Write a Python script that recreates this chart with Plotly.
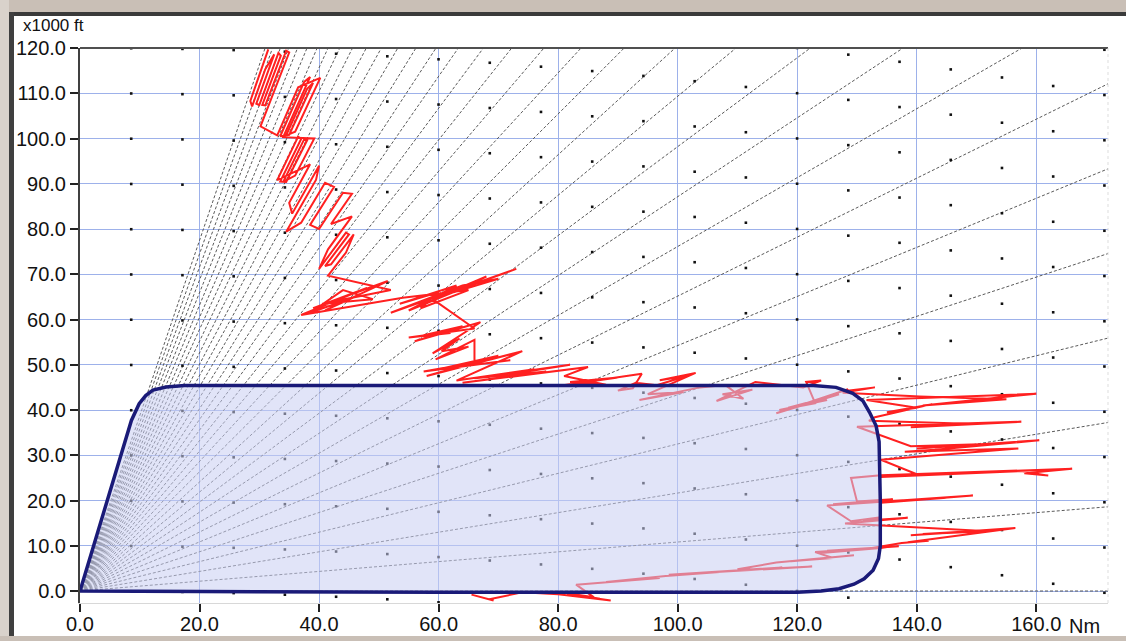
import math
import plotly.graph_objects as go

# ---------------- data ----------------
# elevation-angle reference lines (degrees) radiating from the origin
fan_elev_deg = list(range(0, 33))
kft_per_nm = 6.2  # vertical scale factor of the chart (kft per Nm)

# envelope outline (Nm, kft)
env_x = [0.0, 8.6, 9.9, 11.0, 12.2, 14.4, 17.5, 20.0, 60.0, 100.0, 122.7, 126.5, 129.3, 131.0, 132.1,
         133.2, 133.7, 133.9, 133.9, 133.6, 132.7, 131.2, 129.5, 127.0, 124.0, 120.0, 60.0, 20.0, 0.0]
env_y = [0.0, 37.7, 41.4, 43.2, 44.4, 45.1, 45.4, 45.4, 45.4, 45.4, 45.4, 45.0, 43.7, 42.0, 39.5,
         36.5, 33.0, 20.0, 10.0, 7.2, 4.6, 2.7, 1.5, 0.5, 0.0, -0.3, -0.3, -0.1, 0.0]

# red radar track (Nm, kft)
track_x = [
    65.5, 69.2, 66.5, 68.5, 74.0, 80.0, 88.8, 83.0, 87.0, 81.5, 86.0,
    83.0, 87.5, 84.0, 97.0, 86.0, 92.0, 88.0,
    98.0, 117.5, 101.0, 109.0, 98.5, 122.5, 104.0, 115.0, 110.0,
    116.5, 129.5, 119.0, 127.0, 121.0, 126.0,
    123.0, 137.0, 125.0, 135.0, 124.0, 132.0,
    137.5, 142.0, 138.5, 156.5, 139.0, 154.0, 141.0, 152.0,
    128.0, 138.5, 131.0, 134.0, 129.0,
    125.0, 149.4, 134.0, 145.0, 126.0, 136.0, 130.0,
    129.0, 134.0, 166.0, 158.0, 162.0, 157.5, 134.0, 150.0, 140.0,
    134.0, 157.0, 138.0, 143.0, 160.5, 140.0, 152.0, 139.0,
    130.0, 157.5, 139.0, 150.0, 132.0,
    133.0, 142.6, 135.0, 140.0,
    131.6, 160.0, 141.0, 155.0, 140.5, 127.6, 133.0, 128.0,
    128.5, 116.5, 127.0, 118.5, 125.0, 117.0, 123.0, 121.5, 124.0, 121.0,
    113.0, 106.5, 112.5, 107.5, 111.0, 108.0,
    103.7, 93.6, 101.0, 95.0, 103.0, 97.0, 101.5, 96.5,
    93.0, 90.0, 92.5,
    94.0, 80.0, 90.0, 82.0, 88.0, 81.0,
    85.0, 64.0, 78.0, 66.0, 82.0, 70.0, 76.0, 63.0,
    74.0, 58.0, 70.0, 60.0, 72.0, 57.5, 66.0,
    66.0, 59.5, 65.0, 60.5, 63.5, 59.0,
    67.0, 56.0, 64.0, 57.5, 62.0, 55.0, 66.0,
    59.0, 73.0, 61.0, 68.0, 62.5, 70.0, 64.0,
    52.0, 67.0, 55.0, 63.0, 53.5, 60.0, 57.0, 65.0, 54.0,
    37.0, 48.0, 39.0, 51.5, 41.0, 46.0, 38.5, 44.0, 49.0, 40.5, 52.0,
    41.5, 44.5, 45.8, 42.0, 41.0, 45.0, 44.5, 40.0, 41.5, 45.5,
    42.0, 45.5, 44.0, 40.0, 38.5, 42.5, 41.0, 37.0, 34.5, 39.5, 40.0, 35.5, 35.0, 38.5,
    33.0, 36.5, 37.0, 33.5, 34.5, 38.0, 37.5, 34.0, 36.0, 39.2,
    34.0, 38.5, 37.5, 33.5, 35.0, 39.0, 38.0, 34.5, 36.0, 40.2, 36.5, 33.0,
    30.2, 35.0, 34.5, 31.0, 30.5, 33.6, 33.2, 30.0, 29.5, 32.5, 31.0, 28.8, 28.5, 31.5,
]
track_y = [
    -0.8, -2.1, -1.2, -1.8, -0.3, -0.7, -2.1, -1.0, -1.7, -0.5, -1.4,
    1.4, 1.9, 1.5, 2.9, 1.7, 2.4, 2.0,
    3.3, 5.2, 3.7, 4.5, 3.6, 5.4, 4.0, 4.9, 4.8,
    6.3, 7.9, 6.6, 7.5, 6.8, 7.3,
    8.6, 9.9, 8.9, 9.6, 8.4, 9.4,
    10.6, 11.1, 10.8, 13.9, 12.3, 13.6, 12.6, 13.2,
    14.9, 16.2, 15.5, 16.3, 15.4,
    18.9, 21.1, 19.5, 20.6, 19.2, 20.3, 19.8,
    25.0, 25.6, 27.0, 26.0, 25.5, 26.5, 25.2, 26.3, 25.8,
    29.0, 31.5, 30.8, 31.2, 33.3, 31.5, 32.5, 32.0,
    36.3, 37.4, 36.2, 36.9, 37.6,
    38.4, 41.3, 39.5, 40.5,
    42.2, 43.6, 41.0, 42.4, 43.0, 43.8, 45.0, 44.2,
    44.6, 39.3, 43.5, 40.5, 42.2, 40.0, 41.5, 46.2, 46.5, 45.0,
    46.2, 42.0, 44.5, 43.5, 42.5, 45.5,
    45.0, 42.2, 44.0, 43.5, 48.2, 46.6, 47.5, 45.5,
    46.0, 44.3, 44.8,
    48.0, 45.3, 47.2, 46.2, 45.6, 47.5,
    49.5, 46.0, 48.5, 47.0, 50.0, 47.5, 49.0, 46.5,
    53.0, 47.5, 52.0, 49.0, 51.0, 48.5, 50.5,
    55.5, 51.2, 54.0, 53.0, 55.8, 52.5,
    59.4, 55.2, 58.5, 56.5, 57.0, 56.0, 58.0,
    64.5, 71.2, 65.6, 69.5, 66.0, 69.0, 67.5,
    61.5, 68.5, 62.0, 67.5, 63.5, 66.0, 62.5, 66.5, 64.8,
    61.0, 67.0, 62.5, 68.5, 62.0, 65.0, 61.5, 66.5, 64.5, 63.5, 66.5,
    69.7, 74.8, 78.8, 72.2, 71.8, 78.8, 79.2, 71.2, 75.5, 82.8,
    81.1, 87.8, 88.0, 80.0, 80.9, 89.3, 90.2, 81.4, 79.4, 90.9, 94.0, 83.4, 85.8, 94.3,
    90.8, 100.4, 99.9, 90.5, 90.4, 99.6, 99.8, 90.4, 91.8, 100.0,
    100.3, 113.6, 112.5, 100.5, 100.8, 112.3, 111.0, 100.7, 101.5, 113.4, 111.3, 100.7,
    102.7, 119.0, 119.4, 107.3, 107.4, 118.3, 118.9, 107.4, 107.7, 118.6, 115.3, 107.1, 108.3, 119.7,
]
assert len(track_x) == len(track_y)

# reference dot grid: range columns (Nm) and altitude rows (kft), with earth-curvature drop
dot_cols_nm = [8.57, 17.14, 25.71, 34.28, 42.85, 51.42, 59.99, 68.56, 77.13, 85.7,
               94.27, 102.84, 111.41, 119.98, 128.55, 137.12, 145.69, 154.26, 162.83, 171.4]
dot_rows_kft = [0, 10, 20, 30, 40, 50, 60, 70, 80, 90, 100, 110, 120, 130, 140]
curv_drop_per_nm2 = 0.000694

x_ticks = [0, 20, 40, 60, 80, 100, 120, 140, 160]
y_ticks = [0, 10, 20, 30, 40, 50, 60, 70, 80, 90, 100, 110, 120]
x_range = [0, 172]
y_range = [-2.65, 120]

# ---------------- figure ----------------
W, H = 1126, 641
ML, MR, MT, MB = 80, 18, 48, 38
PW, PH = W - ML - MR, H - MT - MB


def px_x(p):
    return (p - ML) / PW


def px_y(q):
    return (H - MB - q) / PH


fig = go.Figure()

# fan lines
fx, fy = [], []
for a in fan_elev_deg:
    s = kft_per_nm * math.tan(math.radians(a))
    xe = x_range[1] if s * x_range[1] <= y_range[1] + 5 else (y_range[1] + 5) / s
    fx += [0, xe, None]
    fy += [0, s * xe, None]
fig.add_trace(go.Scatter(x=fx, y=fy, mode="lines",
                         line=dict(color="#5a5a5a", width=1, dash="3px,2px"),
                         hoverinfo="skip"))

# dots
dx, dy = [], []
for c in dot_cols_nm:
    for r in dot_rows_kft:
        dx.append(c)
        dy.append(r - curv_drop_per_nm2 * c * c)
fig.add_trace(go.Scatter(x=dx, y=dy, mode="markers",
                         marker=dict(color="#111111", size=2.6, symbol="square"),
                         hoverinfo="skip"))

# red track
fig.add_trace(go.Scatter(x=track_x, y=track_y, mode="lines",
                         line=dict(color="#ff2020", width=2), hoverinfo="skip"))

# envelope
fig.add_trace(go.Scatter(x=env_x, y=env_y, mode="lines", fill="toself",
                         fillcolor="rgba(200,205,242,0.55)",
                         line=dict(color="#1a1a78", width=3.5), hoverinfo="skip"))

font_family = "Liberation Sans, Arial, sans-serif"

fig.update_layout(
    width=W, height=H,
    margin=dict(l=ML, r=MR, t=MT, b=MB, pad=0, autoexpand=False),
    paper_bgcolor="white", plot_bgcolor="white",
    showlegend=False,
    font=dict(family=font_family, size=20, color="#111111"),
    xaxis=dict(range=x_range, tickvals=x_ticks, ticktext=[f"{v:.1f}" for v in x_ticks],
               showgrid=True, gridcolor="#9db1ea", gridwidth=1, zeroline=False,
               showline=True, linecolor="#d8d8d8", linewidth=1, automargin=False,
               ticks="outside", ticklen=8, tickwidth=2, tickcolor="#222222",
               ticklabelstandoff=-5, tickfont=dict(size=20)),
    yaxis=dict(range=y_range, tickvals=y_ticks, ticktext=[f"{v:.1f}" for v in y_ticks],
               showgrid=True, gridcolor="#9db1ea", gridwidth=1, zeroline=False,
               showline=True, linecolor="#404040", linewidth=2, automargin=False,
               ticks="outside", ticklen=8, tickwidth=2, tickcolor="#222222",
               tickfont=dict(size=20)),
    shapes=[
        dict(type="line", xref="paper", yref="paper", x0=0, x1=1, y0=1, y1=1,
             line=dict(color="#505050", width=2)),
        dict(type="line", xref="paper", yref="paper", x0=1, x1=1, y0=0, y1=1,
             line=dict(color="#dddddd", width=1, dash="dot")),
        # window frame
        dict(type="rect", xref="paper", yref="paper", x0=px_x(0), x1=px_x(W), y0=px_y(0), y1=px_y(12),
             fillcolor="#c9bfb6", line=dict(width=0)),
        dict(type="rect", xref="paper", yref="paper", x0=px_x(9), x1=px_x(W), y0=px_y(12), y1=px_y(16),
             fillcolor="#3a3a3a", line=dict(width=0)),
        dict(type="rect", xref="paper", yref="paper", x0=px_x(0), x1=px_x(9), y0=px_y(0), y1=px_y(H),
             fillcolor="#d9d2cb", line=dict(width=0)),
        dict(type="rect", xref="paper", yref="paper", x0=px_x(9), x1=px_x(14), y0=px_y(12), y1=px_y(H),
             fillcolor="#3f3f3f", line=dict(width=0)),
        dict(type="rect", xref="paper", yref="paper", x0=px_x(0), x1=px_x(W), y0=px_y(636), y1=px_y(H),
             fillcolor="#c9bfb6", line=dict(width=0)),
    ],
    annotations=[
        dict(text="x1000 ft", xref="paper", yref="paper", x=px_x(21), y=px_y(26),
             xanchor="left", yanchor="middle", showarrow=False,
             font=dict(size=17, color="#111111", family=font_family)),
        dict(text="Nm", xref="x", yref="paper", x=160, y=px_y(626), xshift=31,
             xanchor="left", yanchor="middle", showarrow=False,
             font=dict(size=20, color="#111111", family=font_family)),
    ],
)

fig.write_html("out.html", config={"displayModeBar": False},
               post_script="document.body.style.margin='0px';")
